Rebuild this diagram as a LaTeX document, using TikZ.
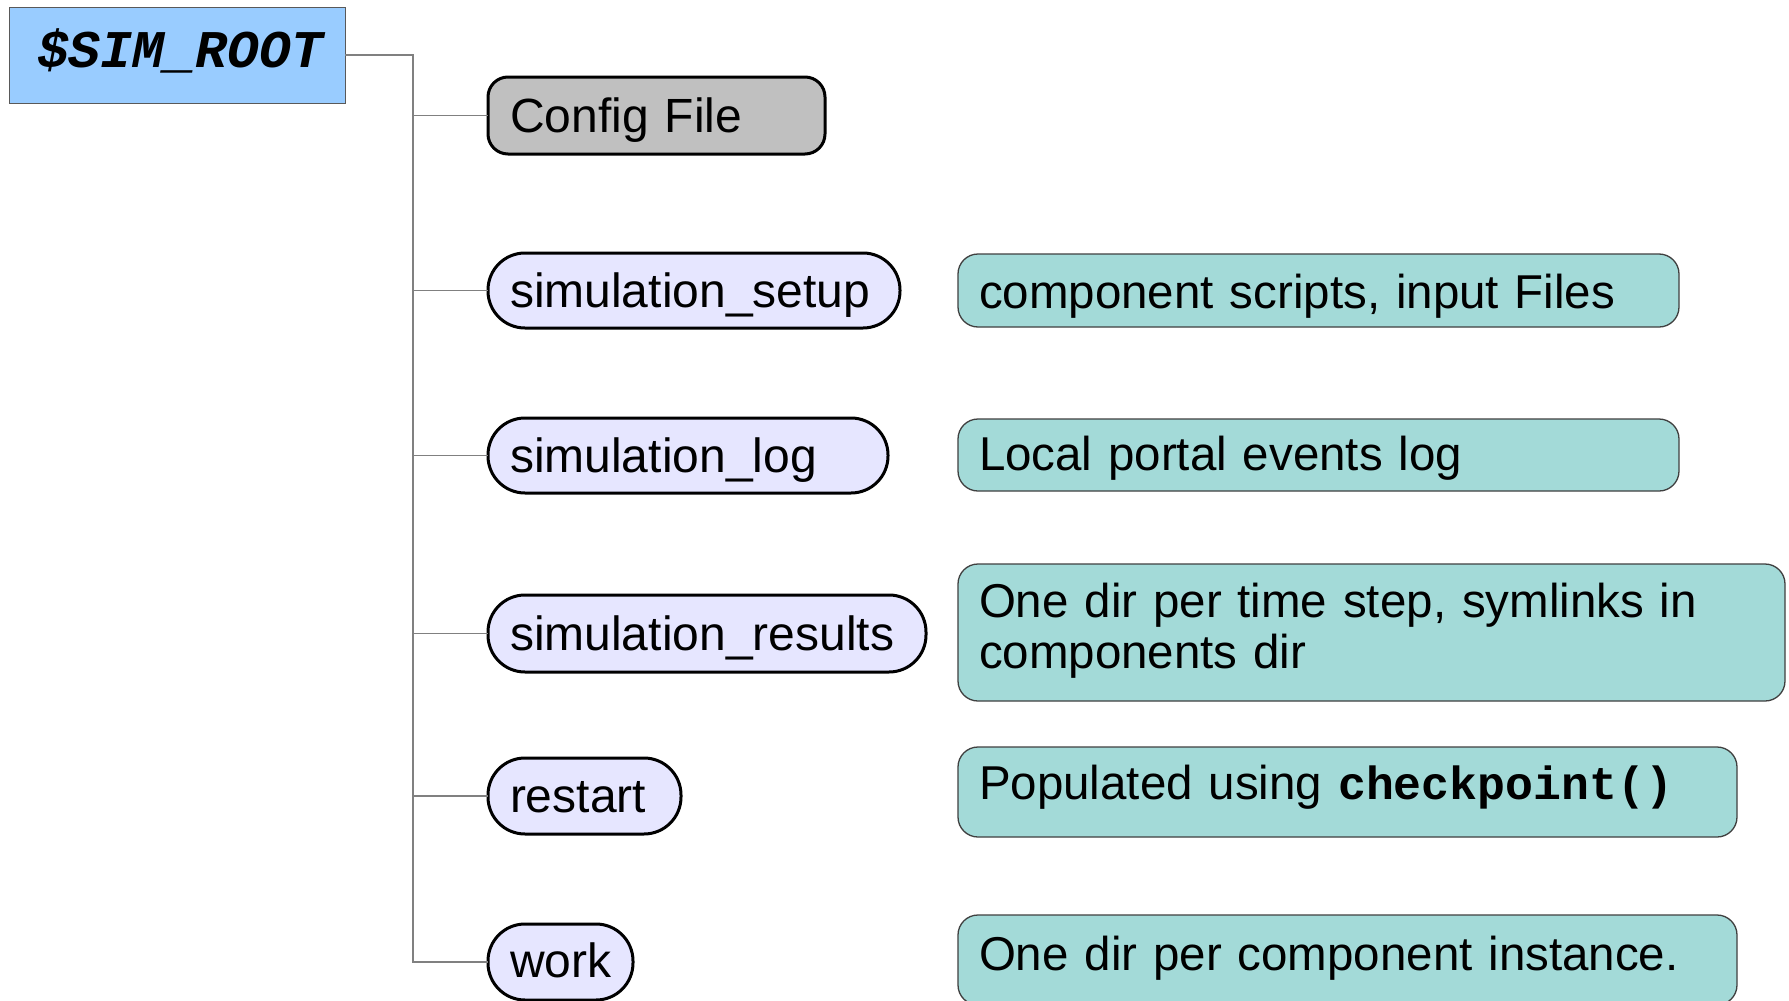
\documentclass[tikz,border=0pt]{standalone}
\usepackage{fontspec}
\setmainfont{Liberation Sans}
\newfontfamily\codefont{Liberation Mono}
\definecolor{rootblue}{HTML}{99CCFF}
\definecolor{cfggray}{HTML}{C0C0C0}
\definecolor{pilllav}{HTML}{E6E6FF}
\definecolor{noteteal}{HTML}{A3DAD8}
\begin{document}
\begin{tikzpicture}[x=1pt,y=-1pt,
  base/.style={anchor=north west, inner ysep=0pt, outer sep=0pt, align=left,
    font=\fontsize{48}{51}\selectfont},
  rootbox/.style={base, draw=black!65, line width=1pt, fill=rootblue, inner xsep=28pt},
  cfgbox/.style={base, draw=black, line width=3pt, fill=cfggray, rounded corners=20pt, inner xsep=22pt},
  pill/.style={base, draw=black, line width=3pt, fill=pilllav, rounded corners=37pt, inner xsep=22pt},
  note/.style={base, draw=black!75, line width=1.3pt, fill=noteteal, rounded corners=20pt, inner xsep=21pt,
    font=\fontsize{47.5}{51}\selectfont},
  conn/.style={draw=black!50, line width=1.5pt},
]
% page
\fill[white] (0,0) rectangle (1789,1001);
\useasboundingbox (0,0) rectangle (1789,1001);

% root directory
\node[rootbox, text width=280pt, text height=60pt, text depth=36pt] (root) at (9,7)
  {\fontsize{53}{56}\selectfont\codefont\bfseries\itshape \$SIM\_ROOT};

% entries of the root directory
\node[cfgbox, text width=293pt, text height=55pt, text depth=22pt] (cfg) at (488,77) {Config File};
\node[pill, text width=368pt, text height=54pt, text depth=21pt] (setup) at (488,253) {simulation\_setup};
\node[pill, text width=356pt, text height=54pt, text depth=21pt] (log) at (488,418) {simulation\_log};
\node[pill, text width=394pt, text height=55pt, text depth=22pt] (results) at (488,595) {simulation\_results};
\node[pill, text width=149pt, text height=54pt, text depth=22pt] (restart) at (488,758) {restart};
\node[pill, text width=101pt, text height=53pt, text depth=23pt] (work) at (488,924) {work};

% descriptions
\node[note, text width=679pt, text height=54pt, text depth=19pt] (d1) at (958,254)
  {component scripts, input Files};
\node[note, text width=679pt, text height=51pt, text depth=21pt] (d2) at (958,419)
  {Local portal events log};
\node[note, text width=785pt, text height=53pt, text depth=84pt] (d3) at (958,564)
  {One dir per time step, symlinks in\\components dir};
\node[note, text width=737pt, text height=52pt, text depth=38pt] (d4) at (958,747)
  {Populated using {\fontsize{46.5}{51}\selectfont\codefont\bfseries checkpoint()}};
\node[note, text width=737pt, text height=55pt, text depth=35pt] (d5) at (958,915)
  {One dir per component instance.};

% tree connectors
\coordinate (trunk) at (413,0);
\draw[conn] (root.east) -- (root.east -| trunk) |- (work.west);
\foreach \n in {cfg,setup,log,results,restart}
  \draw[conn] (\n.west -| trunk) -- (\n.west);
\end{tikzpicture}
\end{document}
